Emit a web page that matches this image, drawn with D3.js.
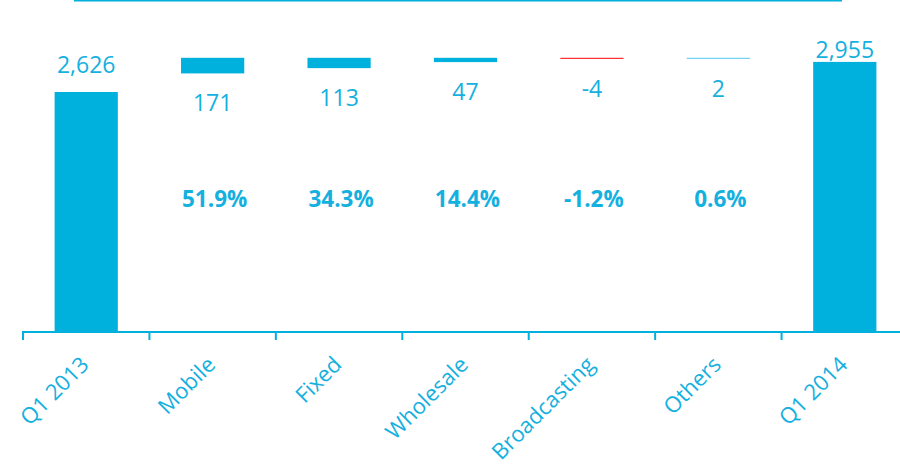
<!DOCTYPE html>
<html>
<head>
<meta charset="utf-8">
<script src="https://cdn.jsdelivr.net/npm/d3@7/dist/d3.min.js"></script>
<style>
  html, body { margin: 0; padding: 0; background: #fff; }
  svg { display: block; }
</style>
</head>
<body>
<svg id="chart" width="900" height="474"></svg>
<script>
// ---- data ----
const categories = ["Q1 2013", "Mobile", "Fixed", "Wholesale", "Broadcasting", "Others", "Q1 2014"];
const values = [2626, 171, 113, 47, -4, 2, 2955];
const kinds = ["total", "change", "change", "change", "change", "change", "total"];
const shareLabels = ["", "51.9%", "34.3%", "14.4%", "-1.2%", "0.6%", ""];
const valueLabels = ["2,626", "171", "113", "47", "-4", "2", "2,955"];
const yMax = 3000;

// ---- styles ----
const BLUE = "#00b0dd";
const TEXT = "#14b0e0";
const RED = "#ff0000";
const LIGHT = "#4fcbef";
const FONT = "'Open Sans', 'Liberation Sans', sans-serif";

const svg = d3.select("#chart");

const x = d3.scaleBand()
  .domain(categories)
  .range([23, 908])
  .paddingInner(0.5)
  .paddingOuter(0.25);

const y = d3.scaleLinear().domain([0, yMax]).range([332, 57.8]);

// top decorative line
svg.append("line")
  .attr("x1", 74).attr("x2", 842)
  .attr("y1", 0.8).attr("y2", 0.8)
  .attr("stroke", BLUE).attr("stroke-width", 1.6);

const data = categories.map((c, i) => ({
  cat: c, v: values[i], kind: kinds[i], share: shareLabels[i], label: valueLabels[i], i
}));

// bars
data.forEach(d => {
  const bx = x(d.cat), bw = x.bandwidth();
  let top, h, fill;
  if (d.kind === "total") {
    top = y(d.v);
    h = y(0) - y(d.v);
    fill = BLUE;
  } else {
    top = y(yMax);
    h = Math.max(1, y(0) - y(Math.abs(d.v)));
    fill = d.v < 0 ? RED : (Math.abs(d.v) < 3 ? LIGHT : BLUE);
  }
  d.top = top; d.bottom = top + h;
  svg.append("rect")
    .attr("x", bx).attr("y", top)
    .attr("width", bw).attr("height", h)
    .attr("fill", fill);
});

// value labels
data.forEach(d => {
  const cx = x(d.cat) + x.bandwidth() / 2;
  let ty;
  if (d.kind === "total") {
    ty = d.i === 0 ? d.top - 19 : d.top - 4;
  } else {
    ty = d.bottom + 38;
  }
  svg.append("text")
    .attr("x", cx).attr("y", ty)
    .attr("text-anchor", "middle")
    .attr("font-family", FONT).attr("font-size", 23)
    .attr("fill", TEXT)
    .text(d.label);
  if (d.share) {
    svg.append("text")
      .attr("x", cx + 2).attr("y", 207)
      .attr("text-anchor", "middle")
      .attr("font-family", FONT).attr("font-size", 22.5).attr("font-weight", "bold")
      .attr("fill", TEXT)
      .text(d.share);
  }
});

// x axis
const axisG = svg.append("g");
axisG.append("line")
  .attr("x1", 22).attr("x2", 900)
  .attr("y1", 332).attr("y2", 332)
  .attr("stroke", BLUE).attr("stroke-width", 2);

const boundaries = categories.map(c => x(c) - x.step() * x.paddingInner() / 2 - (x(c) - x.step() * x.paddingInner() / 2 - x(c)) * 0);
categories.forEach((c, i) => {
  const tx = x(c) - x.bandwidth() * 0.5;
  axisG.append("line")
    .attr("x1", tx).attr("x2", tx)
    .attr("y1", 332).attr("y2", 340)
    .attr("stroke", BLUE).attr("stroke-width", 2);
});

categories.forEach(c => {
  const cx = x(c) + x.bandwidth() / 2;
  axisG.append("text")
    .attr("transform", `translate(${cx + 4},366) rotate(-45)`)
    .attr("text-anchor", "end")
    .attr("font-family", FONT).attr("font-size", 22)
    .attr("fill", TEXT)
    .text(c);
});
</script>
</body>
</html>
